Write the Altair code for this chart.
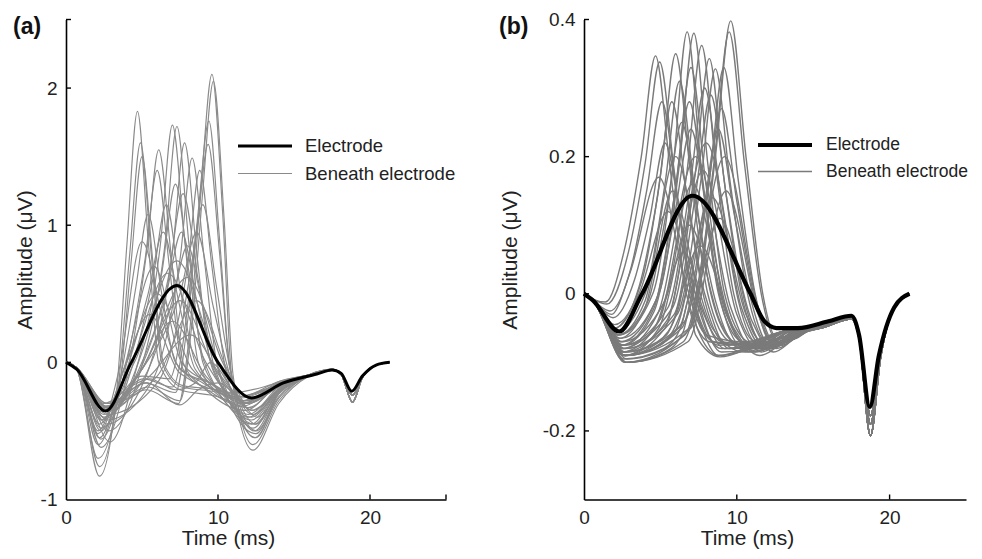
import altair as alt
import pandas as pd

FONT = "Liberation Sans"
SERIES = ["Electrode", "Beneath electrode"]

# ---------------- Panel (a): (time ms, amplitude uV) key points ----------------
A_ELECTRODE = [(0, 0), (0.7, -0.05), (2.6, -0.355), (4.3, 0.0), (7.3, 0.56), (10.0, 0.0),
               (12.2, -0.26), (14.3, -0.15), (16.5, -0.085), (17.5, -0.055), (18.1, -0.08),
               (18.8, -0.21), (19.5, -0.1), (20.4, -0.02), (21.3, 0.0)]

A_BENEATH = [
    [(0, 0), (0.7, -0.05), (2.2, -0.83), (3.3, -0.25), (4.0, 0.85), (4.7, 1.83), (5.4, 0.9), (6.1, 0.0), (7.5, -0.2), (10.0, -0.25), (11.6, -0.32), (14.0, -0.15)],
    [(0, 0), (0.7, -0.05), (2.2, -0.76), (3.4, -0.22), (4.2, 0.8), (4.9, 1.6), (5.6, 0.8), (6.3, 0.0), (7.6, -0.18), (10.0, -0.22), (11.7, -0.3), (14.0, -0.15)],
    [(0, 0), (0.7, -0.05), (2.1, -0.7), (3.5, -0.2), (4.3, 0.75), (5.0, 1.5), (5.7, 0.75), (6.4, 0.0), (7.7, -0.17), (10.0, -0.2), (11.8, -0.28), (14.0, -0.14)],
    [(0, 0), (0.7, -0.04), (2.3, -0.62), (4.0, -0.1), (5.3, 0.8), (6.1, 1.55), (6.9, 0.8), (7.7, 0.0), (9.2, -0.2), (11.8, -0.35), (14.0, -0.16)],
    [(0, 0), (0.7, -0.04), (2.3, -0.56), (3.9, -0.05), (5.2, 0.75), (6.0, 1.4), (6.8, 0.7), (7.7, -0.05), (9.3, -0.2), (12.0, -0.33), (14.0, -0.16)],
    [(0, 0), (0.7, -0.04), (2.1, -0.6), (3.6, -0.1), (4.6, 0.55), (5.4, 1.08), (6.3, 0.5), (7.2, 0.0), (9.0, -0.15), (11.8, -0.28), (14.0, -0.15)],
    [(0, 0), (0.7, -0.04), (2.1, -0.5), (3.5, -0.05), (5.0, 0.88), (6.4, 0.3), (7.5, -0.05), (9.5, -0.15), (11.5, -0.25), (14.0, -0.14)],
    [(0, 0), (0.7, -0.04), (2.9, -0.58), (4.5, -0.1), (6.2, 0.85), (7.0, 1.73), (7.8, 0.9), (8.7, 0.0), (10.2, -0.25), (12.2, -0.45), (14.0, -0.2)],
    [(0, 0), (0.7, -0.04), (2.8, -0.5), (4.8, -0.1), (6.5, 0.85), (7.3, 1.72), (8.1, 0.85), (9.0, 0.0), (10.5, -0.25), (12.3, -0.48), (14.0, -0.2)],
    [(0, 0), (0.7, -0.04), (2.7, -0.45), (5.2, -0.12), (7.0, 0.8), (7.8, 1.6), (8.6, 0.8), (9.5, 0.0), (10.8, -0.25), (12.4, -0.5), (14.0, -0.22)],
    [(0, 0), (0.7, -0.04), (2.7, -0.42), (5.6, -0.15), (7.5, 0.75), (8.3, 1.49), (9.1, 0.75), (10.0, -0.05), (12.5, -0.52), (14.0, -0.22)],
    [(0, 0), (0.7, -0.04), (2.7, -0.38), (6.0, -0.15), (8.0, 0.7), (8.8, 1.4), (9.6, 0.7), (10.5, -0.05), (12.5, -0.55), (14.0, -0.23)],
    [(0, 0), (0.7, -0.04), (2.5, -0.4), (4.8, -0.05), (6.7, 0.6), (7.7, 1.23), (8.7, 0.6), (9.8, -0.05), (12.2, -0.42), (14.0, -0.2)],
    [(0, 0), (0.7, -0.04), (2.4, -0.42), (4.6, -0.05), (6.3, 0.65), (7.2, 1.3), (8.1, 0.65), (9.1, 0.0), (12.0, -0.4), (14.0, -0.19)],
    [(0, 0), (0.7, -0.04), (2.3, -0.48), (4.3, -0.05), (5.7, 0.6), (6.6, 1.15), (7.5, 0.55), (8.5, 0.0), (10.0, -0.2), (12.0, -0.38), (14.0, -0.18)],
    [(0, 0), (0.7, -0.04), (2.8, -0.35), (5.3, -0.2), (7.4, -0.3), (8.2, 0.3), (8.9, 1.3), (9.6, 2.1), (10.3, 1.1), (10.9, -0.1), (12.3, -0.64), (14.0, -0.3)],
    [(0, 0), (0.7, -0.04), (2.8, -0.33), (5.4, -0.18), (7.5, -0.28), (8.3, 0.3), (9.0, 1.25), (9.7, 2.05), (10.4, 1.05), (11.0, -0.1), (12.3, -0.6), (14.0, -0.28)],
    [(0, 0), (0.7, -0.04), (2.7, -0.33), (5.2, -0.15), (7.2, -0.22), (8.0, 0.3), (8.7, 1.1), (9.4, 1.76), (10.1, 0.9), (10.8, -0.05), (12.4, -0.55), (14.0, -0.26)],
    [(0, 0), (0.7, -0.04), (2.7, -0.32), (5.1, -0.12), (7.0, -0.18), (8.6, 0.95), (9.35, 1.59), (10.1, 0.8), (10.8, -0.05), (12.5, -0.5), (14.0, -0.25)],
    [(0, 0), (0.7, -0.04), (2.7, -0.3), (5.0, -0.1), (6.8, -0.12), (8.1, 0.6), (9.0, 1.15), (9.9, 0.55), (10.8, -0.05), (12.5, -0.45), (14.0, -0.23)],
    [(0, 0), (0.7, -0.04), (2.6, -0.32), (5.0, -0.05), (7.5, 0.5), (8.6, 0.95), (9.7, 0.4), (10.8, -0.1), (12.3, -0.38), (14.0, -0.2)],
    [(0, 0), (0.7, -0.04), (2.5, -0.38), (4.5, 0.0), (7.3, 0.74), (9.8, 0.05), (11.8, -0.3), (14.0, -0.18)],
    [(0, 0), (0.7, -0.04), (2.3, -0.42), (4.3, 0.0), (6.7, 0.65), (9.2, 0.0), (11.5, -0.28), (14.0, -0.17)],
    [(0, 0), (0.7, -0.04), (2.6, -0.35), (5.0, -0.05), (8.0, 0.62), (10.3, 0.0), (12.2, -0.35), (14.0, -0.2)],
    [(0, 0), (0.7, -0.04), (2.2, -0.45), (4.0, 0.0), (6.0, 0.5), (8.3, -0.05), (11.2, -0.25), (14.0, -0.16)],
    [(0, 0), (0.7, -0.04), (2.5, -0.33), (5.0, -0.05), (7.5, 0.45), (9.8, -0.05), (12.0, -0.3), (14.0, -0.18)],
    [(0, 0), (0.7, -0.04), (2.7, -0.3), (6.0, -0.1), (8.6, 0.45), (10.6, -0.05), (12.6, -0.4), (14.0, -0.22)],
    [(0, 0), (0.7, -0.04), (2.1, -0.52), (3.8, -0.05), (5.5, 0.35), (7.5, -0.08), (11.0, -0.22), (14.0, -0.15)],
    [(0, 0), (0.7, -0.04), (2.4, -0.36), (4.8, -0.08), (7.0, 0.3), (9.2, -0.1), (11.8, -0.28), (14.0, -0.17)],
    [(0, 0), (0.7, -0.04), (2.6, -0.34), (4.0, -0.22), (5.3, -0.15), (7.5, -0.31), (8.7, -0.2), (10.0, -0.15), (12.0, -0.3), (14.0, -0.18)],
    [(0, 0), (0.7, -0.04), (2.5, -0.3), (4.2, -0.18), (5.5, -0.12), (7.2, -0.2), (8.5, -0.15), (9.5, 0.0), (11.5, -0.25), (14.0, -0.16)],
    [(0, 0), (0.7, -0.04), (2.6, -0.32), (5.5, -0.1), (8.2, 0.2), (10.2, -0.1), (12.3, -0.35), (14.0, -0.2)],
    [(0, 0), (0.7, -0.04), (2.3, -0.5), (4.0, -0.05), (5.4, 0.5), (6.4, 0.95), (7.4, 0.45), (8.5, -0.05), (11.5, -0.3), (14.0, -0.17)],
    [(0, 0), (0.7, -0.04), (2.6, -0.36), (5.2, -0.1), (7.0, 0.45), (8.0, 0.85), (9.0, 0.4), (10.2, -0.1), (12.4, -0.45), (14.0, -0.21)],
    [(0, 0), (0.7, -0.04), (2.2, -0.55), (3.8, -0.05), (5.8, 0.7), (7.6, 0.0), (9.5, -0.15), (11.5, -0.26), (14.0, -0.16)],
    [(0, 0), (0.7, -0.04), (2.5, -0.4), (4.9, -0.05), (6.6, 0.5), (7.6, 0.95), (8.6, 0.45), (9.7, -0.05), (12.2, -0.4), (14.0, -0.2)],
]

A_TAILS = [
    [(16.0, -0.09), (17.5, -0.05), (18.1, -0.08), (18.85, -0.24), (19.5, -0.1), (20.4, -0.02), (21.3, 0.0)],
    [(16.0, -0.1), (17.5, -0.055), (18.1, -0.09), (18.85, -0.29), (19.5, -0.11), (20.4, -0.02), (21.3, 0.0)],
]

A_YLABELS = [-1, 0, 1, 2]
A_YTICKS = [0, 1, 2, 2.5]
A_XTICKS = [10, 20, 25]

# ---------------- Panel (b) ----------------
B_ELECTRODE = [(0, 0), (0.6, -0.01), (2.3, -0.055), (3.8, 0.0), (7.1, 0.143), (10.9, 0.0),
               (11.8, -0.04), (12.6, -0.05), (14.0, -0.05), (16.0, -0.04), (17.5, -0.032),
               (18.0, -0.06), (18.7, -0.165), (19.3, -0.09), (20.3, -0.02), (21.3, 0.0)]

B_BENEATH = [
    [(0, 0), (0.6, -0.008), (1.4, -0.012), (2.6, 0.06), (3.75, 0.2), (4.68, 0.347), (5.6, 0.19), (6.7, 0.0), (8.2, -0.07), (10.5, -0.075), (13.0, -0.055)],
    [(0, 0), (0.6, -0.008), (1.5, -0.015), (2.9, 0.06), (4.0, 0.19), (4.95, 0.338), (5.9, 0.18), (7.0, 0.0), (8.5, -0.07), (10.8, -0.075), (13.0, -0.055)],
    [(0, 0), (0.6, -0.01), (1.7, -0.025), (3.1, 0.04), (4.1, 0.15), (5.1, 0.28), (6.1, 0.14), (7.2, -0.01), (8.8, -0.075), (11.0, -0.07), (13.0, -0.055)],
    [(0, 0), (0.6, -0.01), (1.9, -0.035), (3.3, 0.02), (4.3, 0.11), (5.3, 0.22), (6.4, 0.1), (7.5, -0.02), (9.0, -0.08), (11.2, -0.075), (13.0, -0.055)],
    [(0, 0), (0.6, -0.01), (1.8, -0.03), (3.0, 0.03), (4.9, 0.17), (6.6, 0.02), (8.0, -0.06), (10.5, -0.07), (13.0, -0.055)],
    [(0, 0), (0.6, -0.01), (2.0, -0.05), (3.6, 0.0), (5.5, 0.12), (7.3, 0.0), (9.0, -0.07), (11.5, -0.075), (13.0, -0.055)],
    [(0, 0), (0.6, -0.01), (2.0, -0.045), (3.8, 0.02), (5.05, 0.18), (6.0, 0.35), (6.95, 0.18), (8.1, 0.0), (9.6, -0.07), (11.5, -0.075), (13.2, -0.055)],
    [(0, 0), (0.6, -0.01), (2.0, -0.05), (3.6, 0.01), (4.8, 0.14), (5.75, 0.28), (6.75, 0.14), (7.9, -0.01), (9.4, -0.075), (11.5, -0.07), (13.2, -0.055)],
    [(0, 0), (0.6, -0.01), (2.1, -0.055), (4.0, 0.0), (5.3, 0.16), (6.25, 0.31), (7.2, 0.16), (8.3, 0.0), (9.8, -0.07), (11.8, -0.08), (13.4, -0.055)],
    [(0, 0), (0.6, -0.01), (2.2, -0.06), (4.0, -0.01), (6.0, 0.2), (7.9, 0.0), (9.5, -0.08), (11.8, -0.075), (13.4, -0.055)],
    [(0, 0), (0.6, -0.01), (2.2, -0.06), (4.2, -0.01), (5.4, 0.12), (6.4, 0.25), (7.4, 0.12), (8.6, -0.01), (10.2, -0.08), (12.0, -0.075), (13.5, -0.055)],
    [(0, 0), (0.6, -0.01), (2.3, -0.065), (4.0, -0.02), (5.8, 0.15), (7.6, -0.01), (9.2, -0.08), (11.5, -0.07), (13.3, -0.055)],
    [(0, 0), (0.6, -0.01), (2.3, -0.06), (4.5, 0.0), (5.85, 0.19), (6.75, 0.382), (7.65, 0.19), (8.8, 0.0), (10.3, -0.07), (12.2, -0.08), (13.6, -0.055)],
    [(0, 0), (0.6, -0.01), (2.4, -0.065), (4.9, 0.0), (6.25, 0.19), (7.19, 0.38), (8.1, 0.19), (9.2, 0.0), (10.7, -0.07), (12.4, -0.08), (13.8, -0.055)],
    [(0, 0), (0.6, -0.01), (2.4, -0.07), (4.7, -0.01), (6.05, 0.165), (7.0, 0.33), (7.95, 0.165), (9.1, -0.01), (10.6, -0.075), (12.3, -0.08), (13.7, -0.055)],
    [(0, 0), (0.6, -0.01), (2.4, -0.075), (4.6, -0.02), (5.9, 0.14), (6.9, 0.28), (7.9, 0.14), (9.0, -0.015), (10.5, -0.08), (12.3, -0.08), (13.7, -0.055)],
    [(0, 0), (0.6, -0.01), (2.5, -0.08), (4.8, -0.03), (7.3, 0.2), (9.6, -0.02), (11.2, -0.085), (12.8, -0.07), (14.0, -0.055)],
    [(0, 0), (0.6, -0.01), (2.5, -0.075), (4.6, -0.025), (5.9, 0.11), (7.0, 0.24), (8.1, 0.11), (9.3, -0.02), (11.0, -0.085), (12.6, -0.075), (14.0, -0.055)],
    [(0, 0), (0.6, -0.01), (2.5, -0.085), (4.9, -0.04), (7.1, 0.16), (9.3, -0.03), (11.0, -0.08), (12.8, -0.07), (14.0, -0.055)],
    [(0, 0), (0.6, -0.01), (2.6, -0.09), (4.9, -0.05), (6.9, 0.1), (8.9, -0.04), (10.8, -0.085), (12.8, -0.07), (14.0, -0.055)],
    [(0, 0), (0.6, -0.01), (2.5, -0.07), (5.3, -0.01), (6.75, 0.18), (7.7, 0.362), (8.65, 0.18), (9.8, 0.0), (11.2, -0.07), (12.8, -0.075), (14.0, -0.055)],
    [(0, 0), (0.6, -0.01), (2.6, -0.075), (5.8, -0.02), (7.25, 0.17), (8.2, 0.343), (9.15, 0.17), (10.3, 0.0), (11.6, -0.07), (13.0, -0.075), (14.2, -0.055)],
    [(0, 0), (0.6, -0.01), (2.6, -0.08), (5.9, -0.03), (7.3, 0.145), (8.3, 0.29), (9.3, 0.145), (10.5, -0.01), (11.8, -0.075), (13.2, -0.07), (14.2, -0.055)],
    [(0, 0), (0.6, -0.01), (2.5, -0.075), (5.5, -0.02), (6.9, 0.15), (7.9, 0.3), (8.9, 0.15), (10.1, -0.01), (11.5, -0.075), (13.0, -0.07), (14.2, -0.055)],
    [(0, 0), (0.6, -0.01), (2.6, -0.085), (5.4, -0.04), (8.0, 0.22), (10.3, -0.02), (11.8, -0.08), (13.2, -0.065), (14.3, -0.055)],
    [(0, 0), (0.6, -0.01), (2.6, -0.09), (5.3, -0.05), (7.8, 0.18), (10.0, -0.03), (11.6, -0.085), (13.2, -0.065), (14.3, -0.055)],
    [(0, 0), (0.6, -0.01), (2.7, -0.09), (5.8, -0.06), (8.4, 0.14), (10.6, -0.03), (12.0, -0.08), (13.4, -0.065), (14.4, -0.055)],
    [(0, 0), (0.6, -0.01), (2.7, -0.08), (6.1, -0.03), (7.65, 0.165), (8.6, 0.328), (9.55, 0.165), (10.7, 0.0), (12.0, -0.07), (13.3, -0.07), (14.4, -0.055)],
    [(0, 0), (0.6, -0.01), (2.7, -0.085), (6.6, -0.04), (8.2, 0.165), (9.15, 0.33), (10.1, 0.165), (11.2, 0.0), (12.4, -0.07), (13.6, -0.065), (14.5, -0.055)],
    [(0, 0), (0.6, -0.01), (2.7, -0.09), (6.9, -0.05), (8.5, 0.19), (9.5, 0.382), (10.5, 0.19), (11.6, 0.0), (12.7, -0.07), (13.8, -0.065), (14.6, -0.055)],
    [(0, 0), (0.6, -0.01), (2.7, -0.1), (7.0, -0.05), (8.6, 0.2), (9.6, 0.398), (10.6, 0.2), (11.7, 0.0), (12.8, -0.07), (13.9, -0.065), (14.6, -0.055)],
    [(0, 0), (0.6, -0.01), (2.7, -0.09), (6.4, -0.05), (8.0, 0.135), (9.0, 0.27), (10.0, 0.135), (11.2, -0.01), (12.4, -0.075), (13.6, -0.065), (14.5, -0.055)],
    [(0, 0), (0.6, -0.01), (2.8, -0.095), (6.6, -0.06), (9.2, 0.2), (11.4, -0.02), (12.6, -0.075), (13.8, -0.065), (14.6, -0.055)],
    [(0, 0), (0.6, -0.01), (2.7, -0.09), (6.2, -0.05), (7.8, 0.12), (8.8, 0.24), (9.8, 0.12), (11.0, -0.015), (12.3, -0.08), (13.6, -0.065), (14.5, -0.055)],
    [(0, 0), (0.6, -0.01), (2.8, -0.1), (6.8, -0.07), (9.3, 0.15), (11.4, -0.03), (12.6, -0.08), (13.8, -0.065), (14.6, -0.055)],
    [(0, 0), (0.6, -0.01), (2.8, -0.1), (6.5, -0.07), (8.9, 0.11), (11.0, -0.04), (12.4, -0.085), (13.8, -0.065), (14.6, -0.055)],
    [(0, 0), (0.6, -0.01), (2.6, -0.09), (5.0, -0.075), (6.3, -0.03), (6.9, 0.015), (7.5, -0.035), (8.8, -0.09), (11.0, -0.08), (13.5, -0.06)],
    [(0, 0), (0.6, -0.01), (2.6, -0.095), (5.2, -0.08), (6.4, -0.045), (6.9, -0.005), (7.4, -0.05), (8.8, -0.09), (11.2, -0.075), (13.5, -0.06)],
    [(0, 0), (0.6, -0.01), (2.7, -0.1), (5.3, -0.085), (6.5, -0.055), (6.9, -0.025), (7.3, -0.06), (8.9, -0.092), (11.3, -0.075), (13.5, -0.06)],
    [(0, 0), (0.6, -0.01), (2.5, -0.085), (4.8, -0.07), (6.2, -0.02), (6.9, 0.05), (7.6, -0.02), (9.0, -0.085), (11.0, -0.08), (13.5, -0.06)],
    [(0, 0), (0.6, -0.01), (2.4, -0.08), (4.6, -0.05), (6.5, 0.06), (8.4, -0.05), (10.5, -0.085), (13.0, -0.065)],
    [(0, 0), (0.6, -0.01), (2.6, -0.09), (5.4, -0.06), (7.6, 0.07), (9.8, -0.05), (11.5, -0.09), (13.4, -0.065)],
]

B_TAILS = [
    [(15.5, -0.048), (17.5, -0.035), (18.0, -0.06), (18.75, -0.19), (19.4, -0.09), (20.3, -0.02), (21.3, 0.0)],
    [(15.5, -0.05), (17.5, -0.037), (18.0, -0.065), (18.75, -0.207), (19.4, -0.095), (20.3, -0.02), (21.3, 0.0)],
    [(15.5, -0.046), (17.5, -0.034), (18.0, -0.058), (18.75, -0.178), (19.4, -0.085), (20.3, -0.02), (21.3, 0.0)],
]

B_YLABELS = [-0.2, 0, 0.2, 0.4]
B_YTICKS = [-0.2, 0, 0.2, 0.4]
B_XTICKS = [10, 20]

X_LABELS = [0, 10, 20]


def frame(electrode, beneath, tails):
    rows = []
    for i, curve in enumerate(beneath):
        for t, v in curve + tails[i % len(tails)]:
            rows.append({"t": t, "v": v, "curve": f"g{i}", "kind": "Beneath electrode"})
    for t, v in electrode:
        rows.append({"t": t, "v": v, "curve": "e", "kind": "Electrode"})
    return pd.DataFrame(rows)


def panel(df, label, label_x, ydom, ylabels, yticks, xticks, gray, gray_w, black_w,
          leg_x, leg_y, leg_font, ytitle_x, xtitle_x, width, height):
    xscale = alt.Scale(domain=[0, 25], nice=False, zero=False)
    yscale = alt.Scale(domain=ydom, nice=False, zero=False)
    x = alt.X("t:Q", scale=xscale, axis=alt.Axis(
        values=X_LABELS, title="Time (ms)", ticks=False, grid=False,
        domainColor="#000", domainWidth=1.6, labelFont=FONT, labelFontSize=19,
        labelColor="#222", labelPadding=9, labelFlush=False,
        titleFont=FONT, titleFontSize=21, titleFontWeight="normal", titleColor="#222",
        titleX=xtitle_x, titleY=39, titleBaseline="middle", titleAlign="center"))
    y = alt.Y("v:Q", scale=yscale, axis=alt.Axis(
        values=ylabels, title="Amplitude (\u03bcV)", ticks=False, grid=False,
        labelExpr="'' + datum.value",
        domainColor="#000", domainWidth=1.6, labelFont=FONT, labelFontSize=19,
        labelColor="#222", labelPadding=9, labelFlush=False,
        titleFont=FONT, titleFontSize=21, titleFontWeight="normal", titleColor="#222",
        titleX=ytitle_x, titleY=height / 2, titleBaseline="middle", titleAlign="center",
        titleAngle=270))
    leg = alt.Legend(orient="none", legendX=leg_x, legendY=leg_y, title=None,
                     symbolType="M-3,0H3", symbolSize=324, labelFont=FONT,
                     labelFontSize=leg_font, labelColor="#222", rowPadding=8,
                     labelOffset=29.5, symbolOffset=14.5)
    color = alt.Color("kind:N", scale=alt.Scale(domain=SERIES, range=["#000000", gray]), legend=leg)
    sw = alt.StrokeWidth("kind:N", scale=alt.Scale(domain=SERIES, range=[black_w, gray_w]), legend=leg)

    base = alt.Chart(df)
    gray_layer = base.transform_filter(alt.datum.kind == "Beneath electrode").mark_line(
        interpolate="monotone").encode(x=x, y=y, color=color, strokeWidth=sw, detail="curve:N")
    black_layer = base.transform_filter(alt.datum.kind == "Electrode").mark_line(
        interpolate="monotone").encode(x=x, y=y, color=color, strokeWidth=sw, detail="curve:N")
    xt = alt.Chart(pd.DataFrame({"t": xticks})).mark_rule(color="#000", strokeWidth=1.4).encode(
        x=alt.X("t:Q", scale=xscale), y=alt.value(height), y2=alt.value(height - 5))
    yt = alt.Chart(pd.DataFrame({"v": yticks})).mark_rule(color="#000", strokeWidth=1.4).encode(
        y=alt.Y("v:Q", scale=yscale), x=alt.value(0), x2=alt.value(5))
    tag = alt.Chart(pd.DataFrame({"label": [label]})).mark_text(
        align="left", baseline="middle", font=FONT, fontSize=23, fontWeight="bold",
        color="#111").encode(x=alt.value(label_x), y=alt.value(7), text="label:N")
    return alt.layer(gray_layer, black_layer, xt, yt, tag).properties(width=width, height=height)


df_a = frame(A_ELECTRODE, A_BENEATH, A_TAILS)
df_b = frame(B_ELECTRODE, B_BENEATH, B_TAILS)

pa = panel(df_a, "(a)", -53, [-1, 2.5], A_YLABELS, A_YTICKS, A_XTICKS, "#8a8a8a", 1.15, 3.0,
           174, 116, 18.5, -41, 162, 380, 480)
pb = panel(df_b, "(b)", -85, [-0.3, 0.4], B_YLABELS, B_YTICKS, B_XTICKS, "#7a7a7a", 1.4, 4.2,
           175, 114, 17.5, -74, 163, 382, 480)

chart = alt.hconcat(pa, pb, spacing=43).resolve_scale(
    color="independent", strokeWidth="independent").properties(
    padding={"left": 5, "top": 2.5, "right": 0, "bottom": 0}).configure_view(strokeWidth=0)

chart.save("out.html", embed_options={"renderer": "svg", "actions": False})
